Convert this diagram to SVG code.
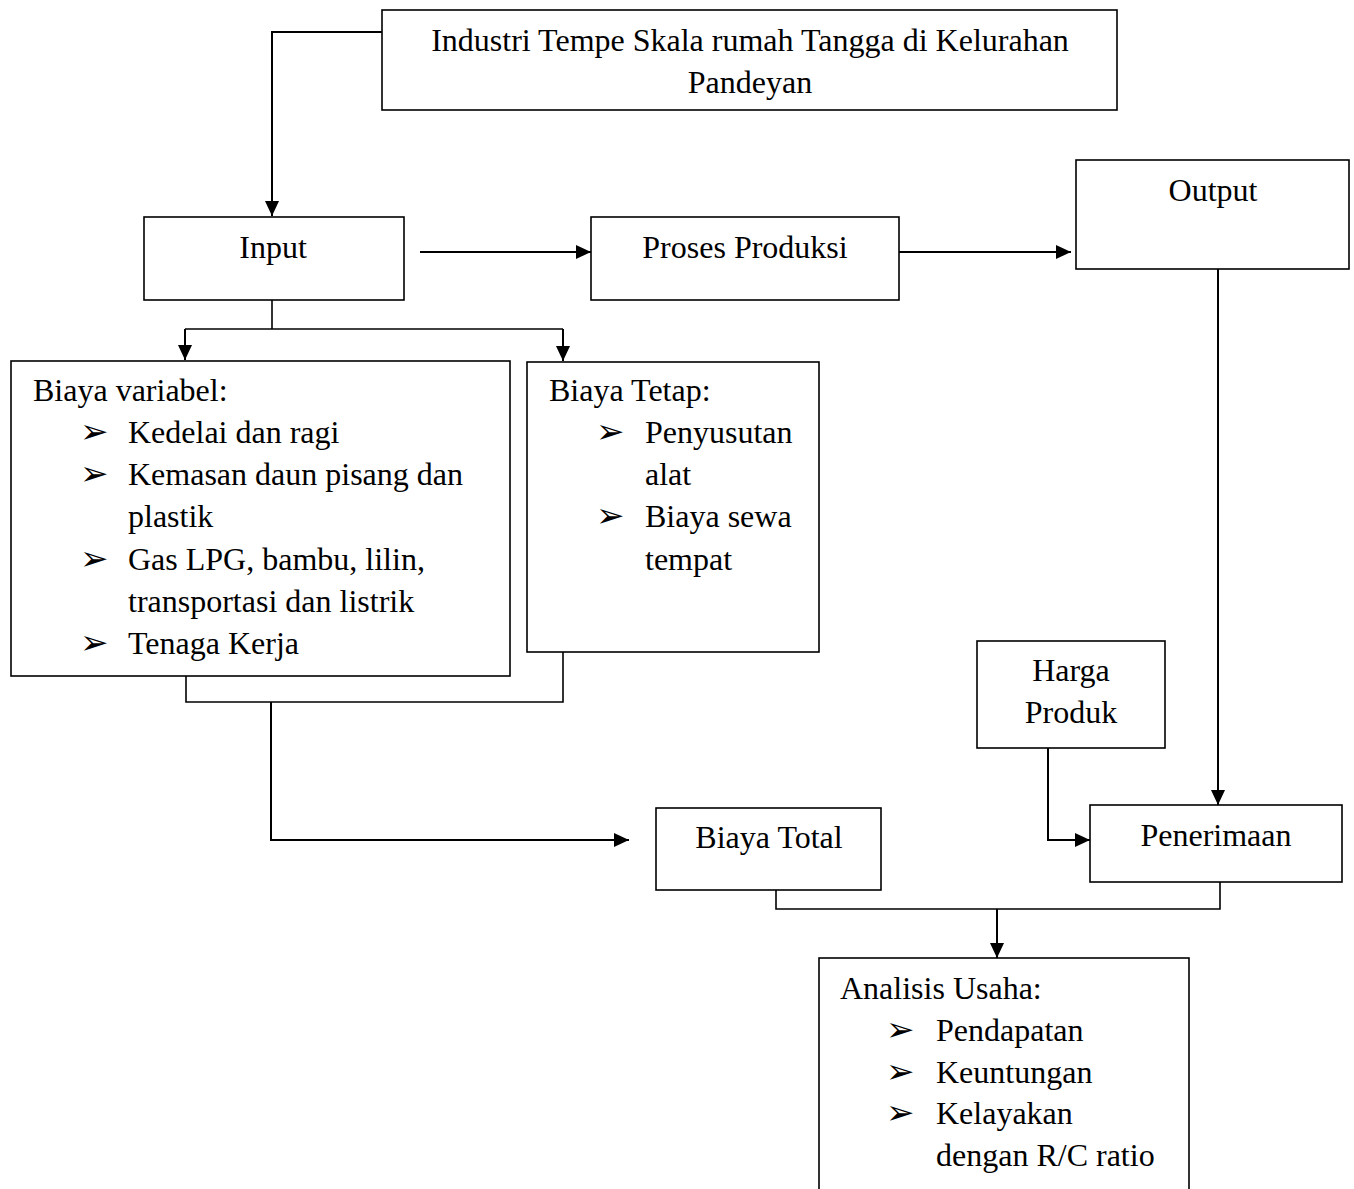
<svg xmlns="http://www.w3.org/2000/svg" width="1354" height="1189" viewBox="0 0 1354 1189">
<style>
.box{fill:#fff;stroke:#000;stroke-width:1.6}
.t{font-family:"Liberation Serif","Times New Roman",serif;font-size:32px;fill:#000}
.c{text-anchor:middle}
.b{font-family:"DejaVu Sans",sans-serif;font-size:34px;fill:#000}
.ln{fill:none;stroke:#000;stroke-width:2}
.thin{fill:none;stroke:#000;stroke-width:1.6}
</style>
<defs>
<marker id="ah" markerUnits="userSpaceOnUse" markerWidth="16" markerHeight="14" refX="15" refY="7" orient="auto">
<path d="M0,0 L15,7 L0,14 Z" fill="#000"/>
</marker>
</defs>
<rect width="1354" height="1189" fill="#fff"/>
<g id="connectors">
<polyline class="ln" points="382,32 272,32 272,216" marker-end="url(#ah)"/>
<line class="ln" x1="420" y1="252" x2="591" y2="252" marker-end="url(#ah)"/>
<line class="ln" x1="899" y1="252" x2="1071" y2="252" marker-end="url(#ah)"/>
<line class="thin" x1="272" y1="300" x2="272" y2="329"/>
<line class="thin" x1="185" y1="329" x2="563" y2="329"/>
<line class="ln" x1="185" y1="329" x2="185" y2="360" marker-end="url(#ah)"/>
<line class="ln" x1="563" y1="329" x2="563" y2="361" marker-end="url(#ah)"/>
<polyline class="thin" points="186,676 186,702 563,702 563,652"/>
<polyline class="ln" points="271,702 271,840 629,840" marker-end="url(#ah)"/>
<line class="ln" x1="1218" y1="264" x2="1218" y2="805" marker-end="url(#ah)"/>
<polyline class="ln" points="1048,743 1048,840 1090,840" marker-end="url(#ah)"/>
<polyline class="thin" points="776,890 776,909 1220,909 1220,882"/>
<line class="ln" x1="997" y1="909" x2="997" y2="958" marker-end="url(#ah)"/>
</g>
<g id="n-industri">
<rect class="box" x="382" y="10" width="735" height="100"/>
<text class="t c" x="750" y="51">Industri Tempe Skala rumah Tangga di Kelurahan</text>
<text class="t c" x="750" y="93">Pandeyan</text>
</g>
<g id="n-input">
<rect class="box" x="144" y="217" width="260" height="83"/>
<text class="t c" x="273" y="258">Input</text>
</g>
<g id="n-proses">
<rect class="box" x="591" y="217" width="308" height="83"/>
<text class="t c" x="745" y="258">Proses Produksi</text>
</g>
<g id="n-output">
<rect class="box" x="1076" y="160" width="273" height="109"/>
<text class="t c" x="1213" y="201">Output</text>
</g>
<g id="n-variabel">
<rect class="box" x="11" y="361" width="499" height="315"/>
<text class="t" x="33" y="401">Biaya variabel:</text>
<text class="b" x="80" y="443">➢</text><text class="t" x="128" y="443">Kedelai dan ragi</text>
<text class="b" x="80" y="485">➢</text><text class="t" x="128" y="485">Kemasan daun pisang dan</text>
<text class="t" x="128" y="527">plastik</text>
<text class="b" x="80" y="570">➢</text><text class="t" x="128" y="570">Gas LPG, bambu, lilin,</text>
<text class="t" x="128" y="612">transportasi dan listrik</text>
<text class="b" x="80" y="654">➢</text><text class="t" x="128" y="654">Tenaga Kerja</text>
</g>
<g id="n-tetap">
<rect class="box" x="527" y="362" width="292" height="290"/>
<text class="t" x="549" y="401">Biaya Tetap:</text>
<text class="b" x="596" y="443">➢</text><text class="t" x="645" y="443">Penyusutan</text>
<text class="t" x="645" y="485">alat</text>
<text class="b" x="596" y="527">➢</text><text class="t" x="645" y="527">Biaya sewa</text>
<text class="t" x="645" y="570">tempat</text>
</g>
<g id="n-harga">
<rect class="box" x="977" y="641" width="188" height="107"/>
<text class="t c" x="1071" y="681">Harga</text>
<text class="t c" x="1071" y="723">Produk</text>
</g>
<g id="n-total">
<rect class="box" x="656" y="808" width="225" height="82"/>
<text class="t c" x="769" y="848">Biaya Total</text>
</g>
<g id="n-penerimaan">
<rect class="box" x="1090" y="805" width="252" height="77"/>
<text class="t c" x="1216" y="846">Penerimaan</text>
</g>
<g id="n-analisis">
<rect class="box" x="819" y="958" width="370" height="250"/>
<text class="t" x="840" y="999">Analisis Usaha:</text>
<text class="b" x="886" y="1041">➢</text><text class="t" x="936" y="1041">Pendapatan</text>
<text class="b" x="886" y="1083">➢</text><text class="t" x="936" y="1083">Keuntungan</text>
<text class="b" x="886" y="1124">➢</text><text class="t" x="936" y="1124">Kelayakan</text>
<text class="t" x="936" y="1166">dengan R/C ratio</text>
</g>
</svg>
